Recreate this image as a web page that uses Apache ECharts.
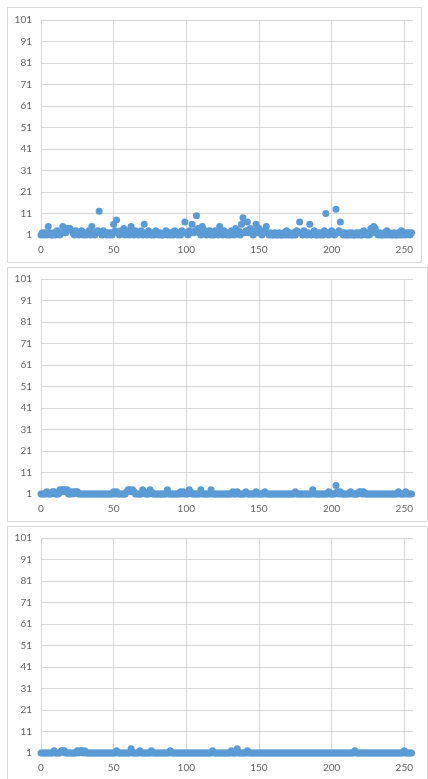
<!DOCTYPE html>
<html>
<head>
<meta charset="utf-8">
<script src="https://cdn.jsdelivr.net/npm/echarts@6/dist/echarts.min.js"></script>
<style>
html,body{margin:0;padding:0;background:#fff;}
#chart{width:428px;height:779px;}
</style>
</head>
<body>
<div id="chart"></div>
<script>
// Panel 1 values (x = 0..255)
const panel1 = [
  1,2,1,2,1,5,2,1,1,2,1,3,2,1,2,5,
  3,2,4,4,4,3,2,1,3,2,1,2,3,1,2,1,
  2,3,1,5,2,1,2,3,12,2,1,3,2,1,2,1,
  2,1,6,3,8,2,1,3,2,4,1,2,3,1,5,2,
  1,3,2,1,2,3,1,6,2,1,3,2,1,2,1,3,
  2,1,2,1,1,2,3,1,2,1,2,1,3,2,1,2,
  1,3,2,7,2,1,3,2,6,2,3,10,4,2,1,5,
  2,3,1,2,3,1,2,1,3,2,1,5,2,1,3,2,
  1,2,1,3,2,1,4,2,3,1,6,9,2,3,7,2,
  4,2,1,3,6,2,4,3,1,2,3,5,2,1,2,1,
  1,2,1,1,2,1,1,2,1,3,1,2,1,1,2,1,
  3,2,7,2,1,3,2,1,2,6,1,2,3,1,1,2,
  1,2,1,3,11,2,1,2,3,2,1,13,2,3,7,2,
  1,2,1,1,2,1,2,1,1,2,1,2,1,1,3,2,
  1,2,1,4,2,5,4,2,1,2,1,1,2,1,3,1,
  2,1,1,2,1,1,2,1,3,1,2,1,2,2,1,2
];
const panel2 = [
  1,1,1,1,2,1,1,1,2,2,1,1,1,3,2,3,
  3,2,3,1,1,2,1,2,2,2,1,1,1,1,1,1,
  1,1,1,1,1,1,1,1,1,1,1,1,1,1,1,1,
  1,1,2,1,2,1,1,1,1,1,1,2,3,3,2,3,
  2,1,1,1,1,1,3,2,1,1,1,3,2,1,1,1,
  1,1,1,1,1,1,1,3,1,1,1,1,1,1,1,1,
  2,1,2,1,1,1,3,2,1,1,1,1,1,1,3,1,
  1,1,1,1,1,3,1,1,1,1,1,1,1,1,1,1,
  1,1,1,1,2,1,1,2,1,1,1,1,1,2,1,1,
  1,1,1,1,2,1,1,1,1,1,2,1,1,1,1,1,
  1,1,1,1,1,1,1,1,1,1,1,1,1,1,1,2,
  1,1,1,1,1,1,1,1,1,1,1,3,1,1,1,1,
  1,1,1,1,1,1,2,1,1,1,1,5,2,1,2,1,
  1,1,1,1,1,2,1,1,1,1,1,2,2,1,2,1,
  1,1,1,1,1,1,1,1,1,1,1,1,1,1,1,1,
  1,1,1,1,1,1,2,1,1,1,1,2,1,1,1,1
];
const panel3 = [
  1,1,1,1,1,1,1,1,1,2,1,1,1,1,2,2,
  2,1,1,1,1,1,1,1,1,2,1,2,2,1,2,1,
  1,1,1,1,1,1,1,1,1,1,1,1,1,1,1,1,
  1,1,1,1,2,1,1,1,1,1,1,1,1,1,3,1,
  1,1,1,1,2,1,1,1,1,1,1,1,2,1,1,1,
  1,1,1,1,1,1,1,1,1,2,1,1,1,1,1,1,
  1,1,1,1,1,1,1,1,1,1,1,1,1,1,1,1,
  1,1,1,1,1,1,2,1,1,1,1,1,1,1,1,1,
  1,1,1,2,1,1,1,3,1,1,1,1,1,1,2,1,
  1,1,1,1,1,1,1,1,1,1,1,1,1,1,1,1,
  1,1,1,1,1,1,1,1,1,1,1,1,1,1,1,1,
  1,1,1,1,1,1,1,1,1,1,1,1,1,1,1,1,
  1,1,1,1,1,1,1,1,1,1,1,1,1,1,1,1,
  1,1,1,1,1,1,1,1,2,1,1,1,1,1,1,1,
  1,1,1,1,1,1,1,1,1,1,1,1,1,1,1,1,
  1,1,1,1,1,1,1,1,1,1,2,1,1,1,1,1
];
const panels = [panel1, panel2, panel3];
const xMin = 0, xMax = 256, xStep = 50;
const yMin = 1, yMax = 101, yStep = 10;

const gridTops = [20, 279, 538];
const gridHeight = 215;
const gridColor = '#d9d9d9';
const labelStyle = { color: '#666666', fontSize: 10, fontFamily: 'Lato, "Liberation Sans", sans-serif' };

const chart = echarts.init(document.getElementById('chart'), null, { renderer: 'canvas' });

const grids = [], xAxes = [], yAxes = [], series = [];
panels.forEach((vals, k) => {
  grids.push({ left: 41, top: gridTops[k], width: 372, height: gridHeight, containLabel: false });
  xAxes.push({
    type: 'value', gridIndex: k, min: xMin, max: xMax, interval: xStep,
    axisLine: { show: false }, axisTick: { show: false },
    axisLabel: Object.assign({ margin: 10, showMaxLabel: false }, labelStyle),
    splitLine: { show: true, showMaxLine: false, lineStyle: { color: gridColor, width: 1 } }
  });
  yAxes.push({
    type: 'value', gridIndex: k, min: yMin, max: yMax, interval: yStep,
    axisLine: { show: false }, axisTick: { show: false },
    axisLabel: Object.assign({ margin: 9 }, labelStyle),
    splitLine: { show: true, lineStyle: { color: gridColor, width: 1 } }
  });
  series.push({
    type: 'scatter', xAxisIndex: k, yAxisIndex: k,
    symbol: 'circle', symbolSize: 7,
    itemStyle: { color: '#5b9bd5', opacity: 1 },
    data: vals.map((v, i) => [i, v]),
    animation: false
  });
});

chart.setOption({
  backgroundColor: '#ffffff',
  animation: false,
  grid: grids,
  xAxis: xAxes,
  yAxis: yAxes,
  series: series,
  graphic: [
    { type: 'rect', shape: { x: 7.5, y: 7.5, width: 414, height: 255 }, style: { fill: 'none', stroke: gridColor, lineWidth: 1 }, silent: true },
    { type: 'rect', shape: { x: 7.5, y: 267.5, width: 420, height: 254 }, style: { fill: 'none', stroke: gridColor, lineWidth: 1 }, silent: true },
    { type: 'rect', shape: { x: 7.5, y: 526.5, width: 420, height: 260 }, style: { fill: 'none', stroke: gridColor, lineWidth: 1 }, silent: true }
  ]
});
</script>
</body>
</html>
